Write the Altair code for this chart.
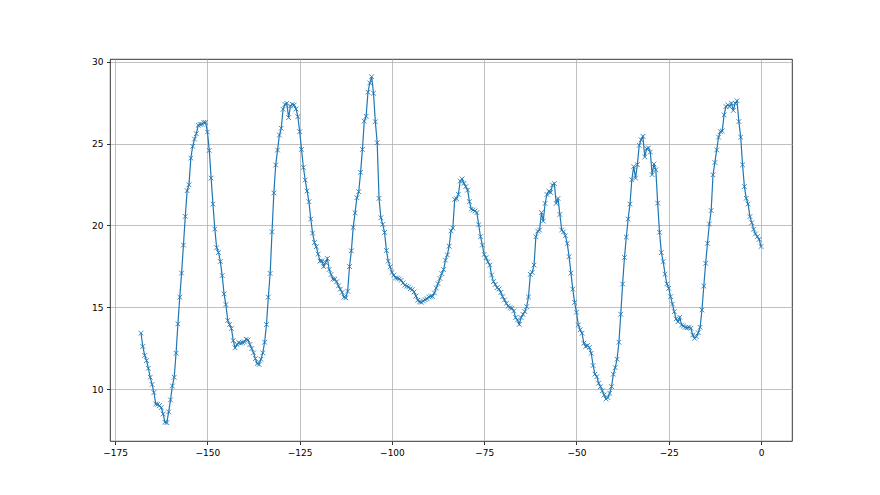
import altair as alt
import pandas as pd

# Temperature-like readings, half-hour steps from -168 to 0
seg1 = [13.42, 12.61, 12.06, 11.75, 11.28, 10.73, 10.29, 9.80, 9.10, 9.08,
        9.00, 8.88, 8.49, 7.98, 7.96, 8.62, 9.35, 10.20, 10.73, 12.20,
        13.99, 15.62, 17.09, 18.80, 20.55, 22.12, 22.48, 24.11, 24.83, 25.27,
        25.60, 26.11, 26.17, 26.17, 26.29, 26.29, 25.70, 24.58, 22.89, 21.30,
        19.78, 18.64, 18.35, 17.80, 16.94, 15.82]
seg2 = [15.17, 14.20, 13.95, 13.71, 12.97, 12.53, 12.73, 12.85, 12.81, 12.85,
        12.89, 13.05, 13.01, 12.73, 12.48, 12.22, 11.87, 11.57, 11.51, 11.83,
        12.22, 12.87, 13.95, 15.62, 17.07, 19.61, 21.98, 23.69, 24.60, 25.52,
        25.93, 27.09, 27.39, 27.45, 26.58, 27.29, 27.39, 27.35, 27.11, 26.64,
        25.72, 24.64, 23.54, 22.77, 22.10, 21.45, 20.39]
seg3 = [19.53, 18.96, 18.70, 18.25, 17.82, 17.84, 17.49, 17.74, 17.98, 17.31,
        17.01, 16.72, 16.72, 16.56, 16.31, 16.11, 15.91, 15.62, 15.58, 15.99,
        17.49, 18.45, 19.88, 20.77, 21.69, 22.06, 23.24, 24.64, 26.37, 26.66,
        28.13, 28.70, 29.08, 28.07, 26.33, 25.05, 21.65, 20.47, 20.06, 19.57,
        18.47, 17.82, 17.47, 17.13, 16.97, 16.80]
seg4 = [16.78, 16.73, 16.65, 16.49, 16.35, 16.29, 16.24, 16.14, 16.08, 15.94,
        15.69, 15.43, 15.33, 15.31, 15.39, 15.47, 15.53, 15.63, 15.67, 15.67,
        15.88, 16.18, 16.45, 16.76, 17.06, 17.31, 17.88, 18.20, 18.73, 19.67,
        19.84, 21.59, 21.63, 21.90, 22.71, 22.84, 22.57, 22.37, 22.16, 21.45,
        21.00, 20.94, 20.88, 20.78, 20.04, 19.31, 18.80]
seg5 = [18.23, 18.03, 17.78, 17.58, 16.97, 16.57, 16.40, 16.20, 16.12, 15.91,
        15.65, 15.45, 15.24, 15.08, 14.98, 14.94, 14.78, 14.37, 14.23, 13.96,
        14.37, 14.57, 14.74, 15.04, 15.63, 17.01, 17.13, 17.58, 19.31, 19.65,
        19.72, 20.79, 20.26, 21.34, 21.89, 22.09, 22.01, 22.46, 22.56, 21.34,
        21.65, 20.67, 19.72, 19.61, 19.37, 18.90, 18.09]
seg6 = [17.09, 16.11, 15.30, 14.70, 13.93, 13.63, 13.42, 12.81, 12.61, 12.67,
        12.55, 12.20, 11.45, 10.92, 10.77, 10.37, 10.16, 9.90, 9.65, 9.41,
        9.49, 9.76, 10.16, 10.92, 11.32, 11.83, 12.87, 14.58, 16.42, 18.04,
        19.29, 20.39, 21.30, 22.79, 23.60, 22.89, 23.71, 24.89, 25.23, 25.44,
        24.18, 24.68, 24.73, 24.48, 23.10, 23.75, 23.40, 21.36]
seg7 = [19.58, 18.34, 17.79, 17.02, 16.43, 16.16, 15.65, 15.20, 14.74, 14.29,
        14.12, 14.39, 13.92, 13.86, 13.78, 13.76, 13.78, 13.72, 13.31, 13.11,
        13.21, 13.45, 13.78, 14.84, 16.30, 17.69, 18.91, 20.09, 20.91, 23.09,
        23.84, 24.61, 25.39, 25.73, 25.77, 26.75, 27.26, 27.36, 27.26, 27.46,
        27.02, 27.46, 27.61, 26.34, 25.39, 23.70, 22.37, 21.66, 21.31, 20.54,
        20.17, 19.77, 19.48, 19.32, 19.15, 18.71]

values = seg1 + seg2 + seg3 + seg4 + seg5 + seg6 + seg7
hours = [-168 + 0.5 * i for i in range(len(values))]

x_ticks = [-175, -150, -125, -100, -75, -50, -25, 0]
y_ticks = [10, 15, 20, 25, 30]

df = pd.DataFrame({"x": hours, "y": values})

blue = "#1f77b4"
xs = alt.Scale(domain=[-176.4, 8.4], nice=False, zero=False)
ys = alt.Scale(domain=[6.84, 30.16], nice=False, zero=False)

axis_common = dict(
    grid=True, gridColor="#b0b0b0", gridWidth=0.8, domain=False,
    ticks=True, tickColor="black", tickSize=3.5, tickWidth=0.8,
    labelFont="DejaVu Sans", labelFontSize=9, labelColor="black",
    labelPadding=3.5, title=None,
)

base = alt.Chart(df).encode(
    x=alt.X("x:Q", scale=xs, axis=alt.Axis(values=x_ticks, format="d", **axis_common)),
    y=alt.Y("y:Q", scale=ys, axis=alt.Axis(values=y_ticks, format="d", **axis_common)),
)

line = base.mark_line(color=blue, strokeWidth=1.2)
pts = base.mark_point(
    shape="M-1,-1L1,1M1,-1L-1,1", filled=False, color=blue,
    strokeWidth=1, size=22, opacity=0.85,
)

chart = (line + pts).properties(
    width=682, height=382,
    autosize=alt.AutoSizeParams(type="none"),
    padding={"left": 102, "top": 51, "right": 80, "bottom": 46},
).configure_view(stroke="black", strokeWidth=0.8)

chart.save("out.html", embed_options={"renderer": "svg", "actions": False})
